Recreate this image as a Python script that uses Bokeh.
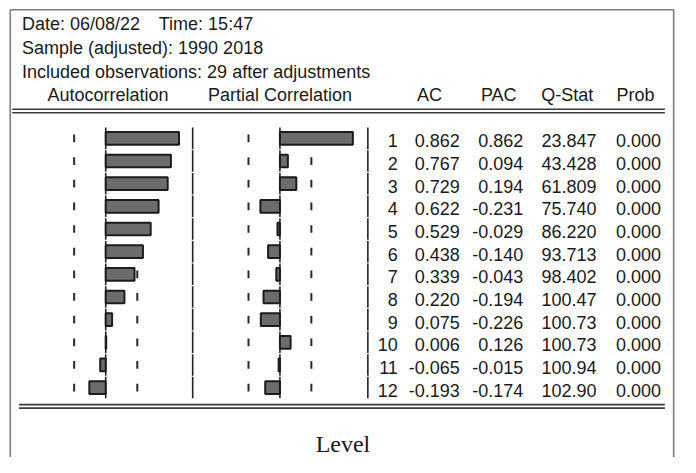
from bokeh.plotting import figure
from bokeh.models import Range1d, ColumnDataSource
from bokeh.core.properties import value
from bokeh.embed import file_html
from bokeh.resources import INLINE

# ---------------- data ----------------
lags = [1, 2, 3, 4, 5, 6, 7, 8, 9, 10, 11, 12]
ac = [0.862, 0.767, 0.729, 0.622, 0.529, 0.438, 0.339, 0.220, 0.075, 0.006, -0.065, -0.193]
pac = [0.862, 0.094, 0.194, -0.231, -0.029, -0.140, -0.043, -0.194, -0.226, 0.126, -0.015, -0.174]
qstat = [23.847, 43.428, 61.809, 75.740, 86.220, 93.713, 98.402, 100.47, 100.73, 100.73, 100.94, 102.90]
prob = [0.000, 0.000, 0.000, 0.000, 0.000, 0.000, 0.000, 0.000, 0.000, 0.000, 0.000, 0.000]
nobs = 29
date_text = "Date: 06/08/22"
time_text = "Time: 15:47"
sample_text = "Sample (adjusted): 1990 2018"
obs_text = "Included observations: 29 after adjustments"
col_titles = ["Autocorrelation", "Partial Correlation", "AC", "PAC", "Q-Stat", "Prob"]
caption = "Level"

# ---------------- layout constants ----------------
# figure size (fits the 696x473 window with its 8px margin)
W, H = 680, 457
# layout coordinate space (reference pixels)
RW, RH = 696, 473
AC_ZERO, AC_PX = 107.7, 87.0
PAC_ZERO, PAC_PX = 286.0, 86.6
ROW1, PITCH = 142.7, 23.45
TY = -6.0  # text baseline correction

FONT = "Liberation Sans"
FS = "18px"
TXT = "#1a1a1a"

p = figure(width=W, height=H, x_range=Range1d(0, RW), y_range=Range1d(RH, 0),
           output_backend="svg", toolbar_location=None, min_border=0,
           x_axis_location=None, y_axis_location=None)
p.grid.visible = False
p.outline_line_color = None
p.background_fill_color = "white"
p.border_fill_color = "white"

p.extra_x_ranges = {
    "ac": Range1d((0 - AC_ZERO) / AC_PX, (RW - AC_ZERO) / AC_PX),
    "pac": Range1d((0 - PAC_ZERO) / PAC_PX, (RW - PAC_ZERO) / PAC_PX),
}
p.extra_y_ranges = {
    "lag": Range1d(1 + (RH - ROW1) / PITCH, 1 + (0 - ROW1) / PITCH),
}

band = 2.0 / nobs ** 0.5

def fmt_q(v):
    return f"{v:.3f}" if v < 100 else f"{v:.2f}"

src = ColumnDataSource(dict(
    lag=lags, ac=ac, pac=pac,
    lo=[l - 0.475 for l in lags], hi=[l + 0.475 for l in lags],
    dlo=[l - 0.17 for l in lags], dhi=[l + 0.17 for l in lags],
    lag_s=[str(l) for l in lags],
    ac_s=[f"{v:.3f}" for v in ac],
    pac_s=[f"{v:.3f}" for v in pac],
    q_s=[fmt_q(v) for v in qstat],
    p_s=[f"{v:.3f}" for v in prob],
))

# ---------------- frame / rules ----------------
BORDER = "#7d7d7d"
p.segment(x0=[10, 10, 689], y0=[9.5, 9.5, 9.5], x1=[689, 10, 689], y1=[9.5, 473, 473],
          line_color=BORDER, line_width=1.6)
RULE = "#3a3a3a"
p.segment(x0=[12, 12], y0=[112.5, 116.2], x1=[680, 680], y1=[112.5, 116.2],
          line_color=RULE, line_width=1.6)
p.segment(x0=[19, 19], y0=[418.3, 421.9], x1=[680, 680], y1=[418.3, 421.9],
          line_color=RULE, line_width=1.6)

# ---------------- confidence marks ----------------
for rng in ("ac", "pac"):
    for s in (-1, 1):
        p.segment(x0=s * band, x1=s * band, y0="dlo", y1="dhi", source=src,
                  x_range_name=rng, y_range_name="lag", line_color="#2a2a2a", line_width=2)

# zero lines (per row, tiny gaps between rows)
for rng in ("ac", "pac"):
    p.segment(x0=0, x1=0, y0="lo", y1="hi", source=src, x_range_name=rng,
              y_range_name="lag", line_color="#222222", line_width=1.6)

# column separators
for xs in (196.7, 376.0):
    p.segment(x0=xs, x1=xs, y0="lo", y1="hi", source=src, y_range_name="lag",
              line_color="#222222", line_width=1.6)

# bars
p.hbar(y="lag", left=0, right="ac", height=0.56, source=src, x_range_name="ac",
       y_range_name="lag", fill_color="#6c6c6c", line_color="#1c1c1c", line_width=2)
p.hbar(y="lag", left=0, right="pac", height=0.56, source=src, x_range_name="pac",
       y_range_name="lag", fill_color="#6c6c6c", line_color="#1c1c1c", line_width=2)

# ---------------- header text ----------------
hdr = dict(text_font=value(FONT), text_font_size=FS, text_color=TXT, text_baseline="alphabetic")
p.text(x=[22, 162, 22, 22], y=[30.5 + TY, 30.5 + TY, 55 + TY, 79.5 + TY],
       text=[date_text, time_text, sample_text, obs_text], text_align="left", **hdr)
p.text(x=[110, 286, 439, 510, 580, 650], y=[104 + TY] * 6, text=col_titles,
       text_align="center", **hdr)

# ---------------- table text ----------------
for xcol, key in ((406.7, "lag_s"), (470, "ac_s"), (535, "pac_s"), (610, "q_s"), (676, "p_s")):
    p.text(x=xcol, y="lag", text=key, source=src, y_range_name="lag", text_align="right",
           y_offset=2.5, **hdr)

# ---------------- caption ----------------
p.text(x=[350.5], y=[465 + TY], text=[caption], text_align="center", text_baseline="alphabetic",
       text_font=value("Liberation Serif"), text_font_size="24px", text_color=TXT)

open("out.html", "w").write(file_html(p, INLINE))
